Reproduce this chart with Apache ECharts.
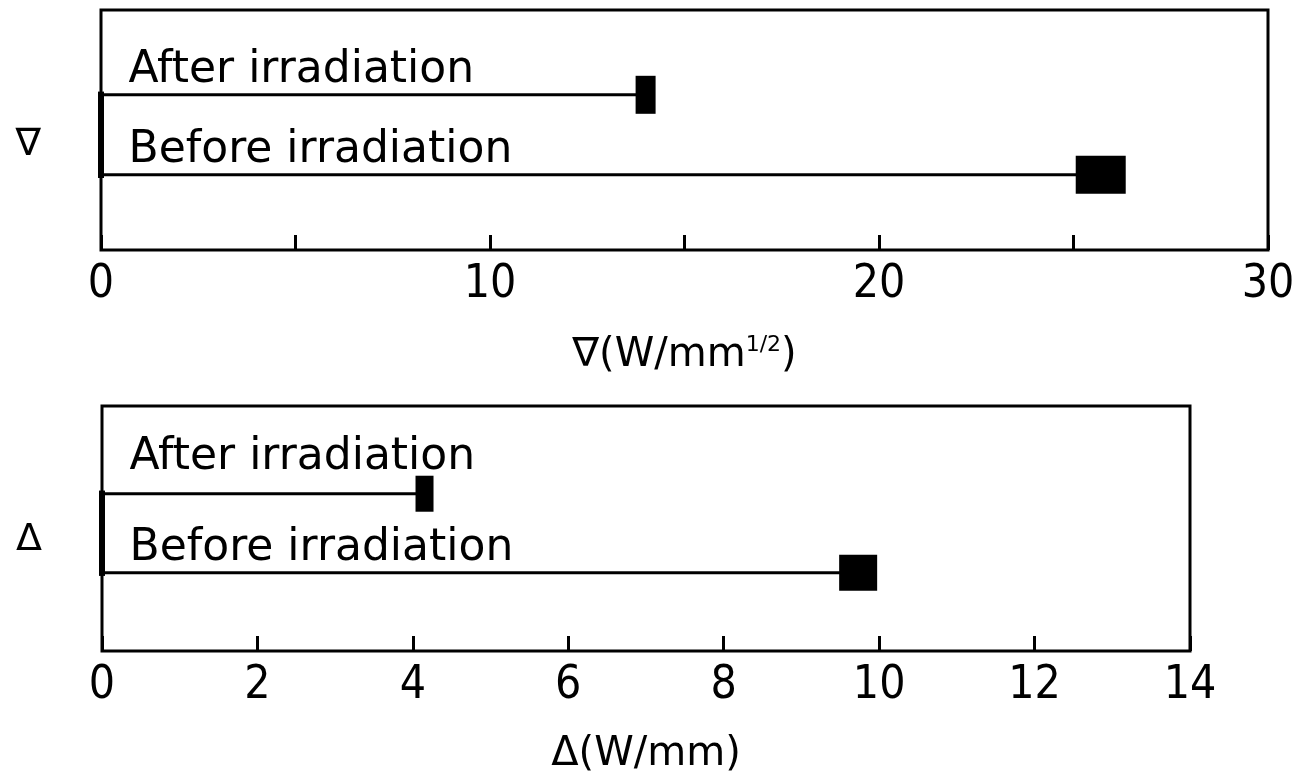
<!DOCTYPE html>
<html>
<head>
<meta charset="utf-8">
<script src="https://cdn.jsdelivr.net/npm/echarts@6/dist/echarts.min.js"></script>
<style>
  html, body { margin: 0; padding: 0; background: #fff; }
  #chart { width: 1315px; height: 780px; }
</style>
</head>
<body>
<div id="chart"></div>
<script>
// rows, bottom to top
const rowNames = ['Before irradiation', 'After irradiation'];
// nabla (W/mm^1/2)
const gradValues = [25.7, 14.0];
const gradTicks = [0, 10, 20, 30];
// delta (W/mm)
const deltaValues = [9.73, 4.15];
const deltaTicks = [0, 2, 4, 6, 8, 10, 12, 14];

const FONT = "'DejaVu Sans', sans-serif";
const NUM_FONT = "'Liberation Sans Narrow', 'DejaVu Sans Condensed', 'DejaVu Sans', sans-serif";

const chart = echarts.init(document.getElementById('chart'));

// one horizontal line per row: tiny start point carrying the text, filled rect at the end
function rowSeries(values, axis, markerSizes, labelLift) {
  return values.map((v, i) => ({
    type: 'line',
    xAxisIndex: axis,
    yAxisIndex: axis,
    silent: true,
    lineStyle: { color: '#000', width: 3 },
    itemStyle: { color: '#000' },
    z: 3,
    data: [
      {
        value: [0, i],
        symbol: 'circle',
        symbolSize: 1,
        label: {
          show: true,
          position: [28, -labelLift[i]],
          align: 'left',
          verticalAlign: 'bottom',
          formatter: rowNames[i],
          color: '#000',
          fontFamily: FONT,
          fontSize: 44
        }
      },
      { value: [v, i], symbol: 'rect', symbolSize: markerSizes[i] }
    ]
  }));
}

// thick bar joining the rows at zero
function baseBar(axis) {
  return {
    type: 'line',
    xAxisIndex: axis,
    yAxisIndex: axis,
    silent: true,
    symbol: 'none',
    lineStyle: { color: '#000', width: 6 },
    z: 4,
    data: [[0, -0.04], [0, rowNames.length - 1 + 0.04]]
  };
}

const xCommon = {
  type: 'value',
  axisLine: { show: false, onZero: false },
  axisTick: { show: true, inside: true, length: 15, lineStyle: { color: '#000', width: 3 } },
  splitLine: { show: false },
  nameLocation: 'middle',
  axisLabel: { color: '#000', fontFamily: NUM_FONT, fontSize: 46, margin: 12 }
};

const yCommon = {
  type: 'value',
  axisLine: { show: false, onZero: false },
  axisTick: { show: false },
  axisLabel: { show: false },
  splitLine: { show: false },
  nameLocation: 'middle',
  nameRotate: 0,
  nameGap: 60
};

const option = {
  animation: false,
  backgroundColor: '#fff',
  grid: [
    { left: 101, right: 47, top: 10, height: 240, outerBoundsMode: 'none',
      show: true, borderColor: '#000', borderWidth: 3 },
    { left: 102, right: 125, top: 406, height: 245, outerBoundsMode: 'none',
      show: true, borderColor: '#000', borderWidth: 3 }
  ],
  xAxis: [
    Object.assign({}, xCommon, {
      gridIndex: 0, min: 0, max: 30, interval: 5,
      axisLabel: Object.assign({}, xCommon.axisLabel, {
        formatter: v => (gradTicks.includes(v) ? String(v) : '')
      }),
      name: '{a|∇(W/mm}{s|1/2}{a|)}',
      nameGap: 84,
      nameTextStyle: {
        rich: {
          a: { color: '#000', fontFamily: FONT, fontSize: 40 },
          s: { color: '#000', fontFamily: FONT, fontSize: 22, verticalAlign: 'top', padding: [0, 0, 22, 0] }
        }
      }
    }),
    Object.assign({}, xCommon, {
      gridIndex: 1, min: 0, max: 14, interval: 2,
      axisLabel: Object.assign({}, xCommon.axisLabel, {
        formatter: v => (deltaTicks.includes(v) ? String(v) : '')
      }),
      name: 'Δ(W/mm)',
      nameGap: 84,
      nameTextStyle: { color: '#000', fontFamily: FONT, fontSize: 40 }
    })
  ],
  yAxis: [
    Object.assign({}, yCommon, { gridIndex: 0, min: -0.94, max: 2.06, name: '∇',
      nameTextStyle: { color: '#000', fontFamily: FONT, fontSize: 38, verticalAlign: 'top', lineHeight: 30 } }),
    Object.assign({}, yCommon, { gridIndex: 1, min: -0.99, max: 2.11, name: 'Δ',
      nameTextStyle: { color: '#000', fontFamily: FONT, fontSize: 38, verticalAlign: 'top', lineHeight: 24 } })
  ],
  series: [
    ...rowSeries(gradValues, 0, [[50, 38], [20, 38]], [2, 2]),
    baseBar(0),
    ...rowSeries(deltaValues, 1, [[38, 36], [18, 36]], [2, 14]),
    baseBar(1)
  ]
};

chart.setOption(option);
</script>
</body>
</html>
